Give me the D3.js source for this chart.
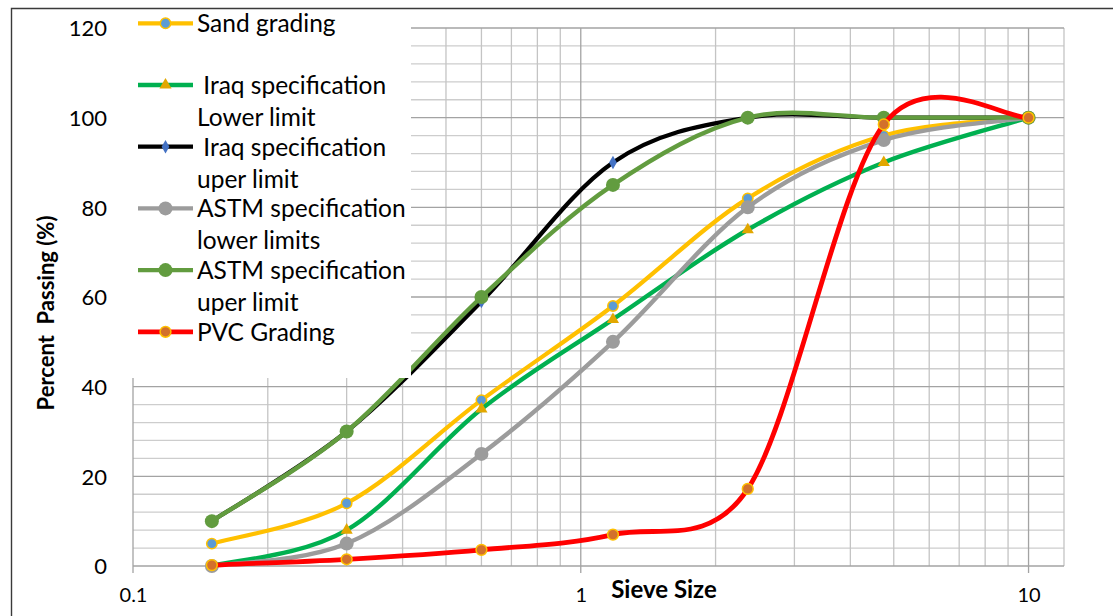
<!DOCTYPE html>
<html>
<head>
<meta charset="utf-8">
<script src="https://cdn.jsdelivr.net/npm/d3@7"></script>
<style>
  html, body { margin: 0; padding: 0; background: #fff; }
  svg { display: block; font-family: Lato, "Open Sans", sans-serif; }
  .pre { white-space: pre; }
</style>
</head>
<body>
<svg id="chart" width="1113" height="616"></svg>
<script>
// Sieve analysis: percent passing per sieve size
const sieveSizes = [0.15, 0.3, 0.6, 1.18, 2.36, 4.75, 10];
const sandGrading = [5, 14, 37, 58, 82, 96, 100];
const iraqLower = [0, 8, 35, 55, 75, 90, 100];
const iraqUpper = [10, 30, 59, 90, 100, 100, 100];
const astmLower = [0, 5, 25, 50, 80, 95, 100];
const astmUpper = [10, 30, 60, 85, 100, 100, 100];
const pvcGrading = [0.2, 1.5, 3.6, 7, 17.2, 98.5, 100];

const xTickValues = [0.1, 1, 10];
const xTickLabels = ["0.1", "1", "10"];
const yTickValues = [0, 20, 40, 60, 80, 100, 120];

const seriesNames = [
  ["Sand grading"],
  [" Iraq specification", "Lower limit"],
  [" Iraq specification", "uper limit"],
  ["ASTM specification", "lower limits"],
  ["ASTM specification", "uper limit"],
  ["PVC Grading"]
];
const seriesValues = [sandGrading, iraqLower, iraqUpper, astmLower, astmUpper, pvcGrading];

const styles = [
  { line: "#ffc000", width: 4.2, marker: "circle", r: 5.2, fill: "#5b9bd5", stroke: "#ffc000" },
  { line: "#00b050", width: 4.4, marker: "triangle", size: 64, fill: "#e2a700", stroke: "none" },
  { line: "#000000", width: 4.2, marker: "diamond", size: 52, fill: "#4472c4", stroke: "none" },
  { line: "#9c9c9c", width: 4.4, marker: "circle", r: 7, fill: "#9c9c9c", stroke: "none" },
  { line: "#629c3f", width: 4.4, marker: "circle", r: 7, fill: "#629c3f", stroke: "none" },
  { line: "#ff0000", width: 4.8, marker: "circle", r: 5.4, fill: "#d2702c", stroke: "#ffc000" }
];

const svg = d3.select("#chart");
const plotLeft = 133, plotRight = 1064, plotTop = 28, plotBottom = 566;

const x = d3.scaleLog().domain([0.1, 12]).range([plotLeft, plotRight]);
const y = d3.scaleLinear().domain([0, 120]).range([plotBottom, plotTop]);

// Outer frame
svg.append("path")
  .attr("d", `M11.5,616 L11.5,8.5 L1113,8.5`)
  .attr("fill", "none").attr("stroke", "#3a3a3a").attr("stroke-width", 1.4);

// Grid
const grid = svg.append("g");
const minorY = d3.range(0, 121, 4).filter(v => v % 20 !== 0);
grid.selectAll(".hy-minor").data(minorY).enter().append("line")
  .attr("x1", plotLeft).attr("x2", plotRight)
  .attr("y1", d => y(d)).attr("y2", d => y(d))
  .attr("stroke", "#cdcdcd").attr("stroke-width", 1.3);

const minorX = [];
[0.1, 1].forEach(dec => { for (let k = 2; k <= 9; k++) minorX.push(+(dec * k).toFixed(3)); });
grid.selectAll(".vx-minor").data(minorX).enter().append("line")
  .attr("x1", d => x(d)).attr("x2", d => x(d))
  .attr("y1", plotTop).attr("y2", plotBottom)
  .attr("stroke", "#c4c4c4").attr("stroke-width", 1.3);

grid.append("line")
  .attr("x1", plotRight).attr("x2", plotRight).attr("y1", plotTop).attr("y2", plotBottom)
  .attr("stroke", "#c4c4c4").attr("stroke-width", 1.3);

grid.selectAll(".hy-major").data(yTickValues).enter().append("line")
  .attr("x1", plotLeft).attr("x2", plotRight)
  .attr("y1", d => y(d)).attr("y2", d => y(d))
  .attr("stroke", "#a3a3a3").attr("stroke-width", 1.3);

grid.selectAll(".vx-major").data(xTickValues).enter().append("line")
  .attr("x1", d => x(d)).attr("x2", d => x(d))
  .attr("y1", plotTop).attr("y2", plotBottom + 7)
  .attr("stroke", "#a3a3a3").attr("stroke-width", 1.3);

// Axis tick labels
const xAxis = d3.axisBottom(x).tickValues(xTickValues)
  .tickFormat((d, i) => xTickLabels[i]).tickSize(0).tickPadding(0);
const gx = svg.append("g").attr("transform", `translate(0,${plotBottom})`).call(xAxis);
gx.select(".domain").remove();
gx.selectAll("text").attr("y", 35.5).attr("dy", null)
  .attr("font-family", "Lato, sans-serif").attr("font-size", 20).attr("fill", "#000");

const yAxis = d3.axisLeft(y).tickValues(yTickValues).tickSize(0).tickPadding(0);
const gy = svg.append("g").attr("transform", `translate(107,0)`).call(yAxis);
gy.select(".domain").remove();
gy.selectAll("text").attr("x", 0).attr("dy", "0.36em")
  .attr("font-family", "Lato, sans-serif").attr("font-size", 22).attr("fill", "#000");

// Axis titles
svg.append("text")
  .attr("x", 664).attr("y", 597.5).attr("text-anchor", "middle")
  .attr("font-size", 24).attr("font-weight", "bold").attr("fill", "#000")
  .attr("class", "pre")
  .text("Sieve Size");

svg.append("text")
  .attr("transform", "translate(54,313) rotate(-90)")
  .attr("text-anchor", "middle")
  .attr("font-size", 22).attr("font-weight", "bold").attr("fill", "#000")
  .attr("class", "pre")
  .text("Percent  Passing (%)");

// Smoothed line: Bezier segments with 1/6 tangents, each tangent
// capped at half the length of the segment it belongs to.
function smoothPath(pts) {
  const p = d3.path();
  const n = pts.length;
  const dist = (a, b) => Math.hypot(b[0] - a[0], b[1] - a[1]);
  p.moveTo(pts[0][0], pts[0][1]);
  for (let i = 0; i < n - 1; i++) {
    const P0 = pts[Math.max(i - 1, 0)], P1 = pts[i], P2 = pts[i + 1], P3 = pts[Math.min(i + 2, n - 1)];
    const d12 = dist(P1, P2), d02 = dist(P0, P2), d13 = dist(P1, P3);
    const f1 = (d02 / 6 < d12 / 2 || d02 === 0) ? 1 / 6 : d12 / d02 / 2;
    const f2 = (d13 / 6 < d12 / 2 || d13 === 0) ? 1 / 6 : d12 / d13 / 2;
    p.bezierCurveTo(
      P1[0] + (P2[0] - P0[0]) * f1, P1[1] + (P2[1] - P0[1]) * f1,
      P2[0] - (P3[0] - P1[0]) * f2, P2[1] - (P3[1] - P1[1]) * f2,
      P2[0], P2[1]);
  }
  return p.toString();
}

function drawMarker(g, s, cx, cy) {
  if (s.marker === "circle") {
    g.append("circle").attr("cx", cx).attr("cy", cy).attr("r", s.r)
      .attr("fill", s.fill)
      .attr("stroke", s.stroke).attr("stroke-width", s.stroke === "none" ? 0 : 1.5);
  } else {
    const type = s.marker === "triangle" ? d3.symbolTriangle : d3.symbolDiamond;
    g.append("path")
      .attr("d", d3.symbol().type(type).size(s.size)())
      .attr("transform", `translate(${cx},${cy})`)
      .attr("fill", s.fill);
  }
}

const plot = svg.append("g");
seriesValues.forEach((vals, i) => {
  const s = styles[i];
  const pts = sieveSizes.map((sz, j) => [x(sz), y(vals[j])]);
  const g = plot.append("g");
  g.append("path")
    .attr("d", smoothPath(pts))
    .attr("fill", "none").attr("stroke", s.line)
    .attr("stroke-width", s.width).attr("stroke-linejoin", "round").attr("stroke-linecap", "round");
  pts.forEach(p => drawMarker(g, s, p[0], p[1]));
});

// Legend
const legend = svg.append("g");
legend.append("rect")
  .attr("x", 120).attr("y", 10).attr("width", 291).attr("height", 368)
  .attr("fill", "#fff");

const entryStep = 61.7, lineStep = 32.2, firstY = 23.3;
seriesNames.forEach((lines, i) => {
  const s = styles[i];
  const cy = firstY + i * entryStep;
  const g = legend.append("g");
  g.append("line").attr("x1", 138).attr("x2", 193).attr("y1", cy).attr("y2", cy)
    .attr("stroke", s.line).attr("stroke-width", s.width);
  drawMarker(g, s, 165.5, cy);
  lines.forEach((t, k) => {
    g.append("text")
      .attr("class", "pre")
      .attr("x", 197).attr("y", cy + 8.8 + k * lineStep)
      .attr("font-size", 24.5).attr("fill", "#000")
      .text(t);
  });
});
</script>
</body>
</html>
